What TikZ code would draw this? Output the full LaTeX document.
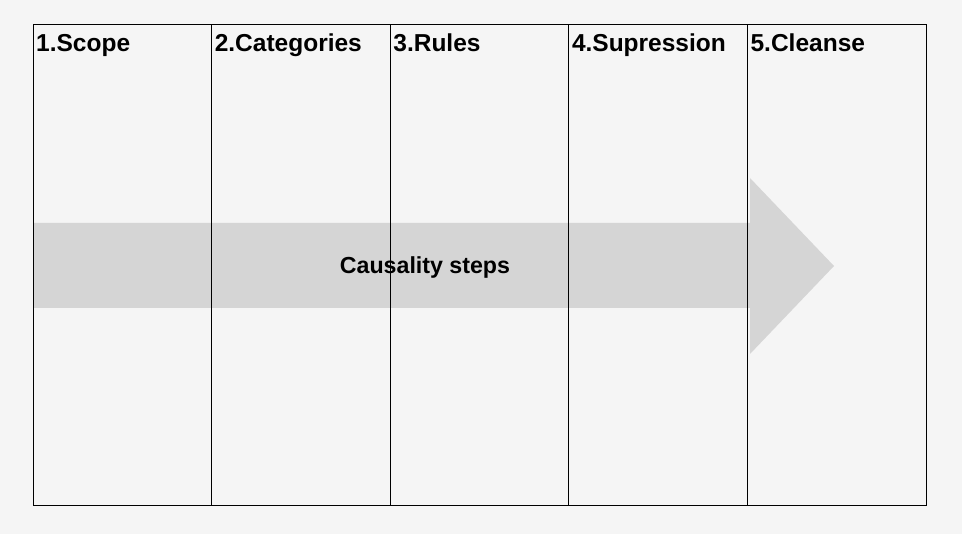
\documentclass[tikz,border=0pt]{standalone}
\usepackage{fontspec}
\setmainfont{Liberation Sans}
\definecolor{bgcol}{RGB}{245,245,245}
\definecolor{arrowcol}{RGB}{213,213,213}
\begin{document}
\begin{tikzpicture}[x=1pt,y=-1pt,
  colbox/.style={draw=black,line width=1pt,minimum width=178.6pt,minimum height=481pt,inner sep=0pt,outer sep=0pt,anchor=north west},
  collabel/.style={anchor=base west,inner sep=0pt,font=\fontsize{24.5}{28}\selectfont\bfseries},
  arrowtext/.style={anchor=base,inner sep=0pt,font=\fontsize{23.2}{27}\selectfont\bfseries}]
\useasboundingbox[fill=bgcol] (0,0) rectangle (962,534);
% arrow
\fill[arrowcol] (33,223) -- (750,223) -- (750,178) -- (834,266) -- (750,354) -- (750,308) -- (33,308) -- cycle;
\node[arrowtext] (steps) at (425,274) {Causality steps};
% columns
\node[colbox] (c1) at (33,25) {};
\node[colbox] (c2) at (211.6,25) {};
\node[colbox] (c3) at (390.2,25) {};
\node[colbox] (c4) at (568.8,25) {};
\node[colbox] (c5) at (747.4,25) {};
\node[collabel] (l1) at (36,52) {1.Scope};
\node[collabel] (l2) at (214.6,52) {2.Categories};
\node[collabel] (l3) at (393.2,52) {3.Rules};
\node[collabel] (l4) at (571.8,52) {4.Supression};
\node[collabel] (l5) at (750.4,52) {5.Cleanse};
\end{tikzpicture}
\end{document}
